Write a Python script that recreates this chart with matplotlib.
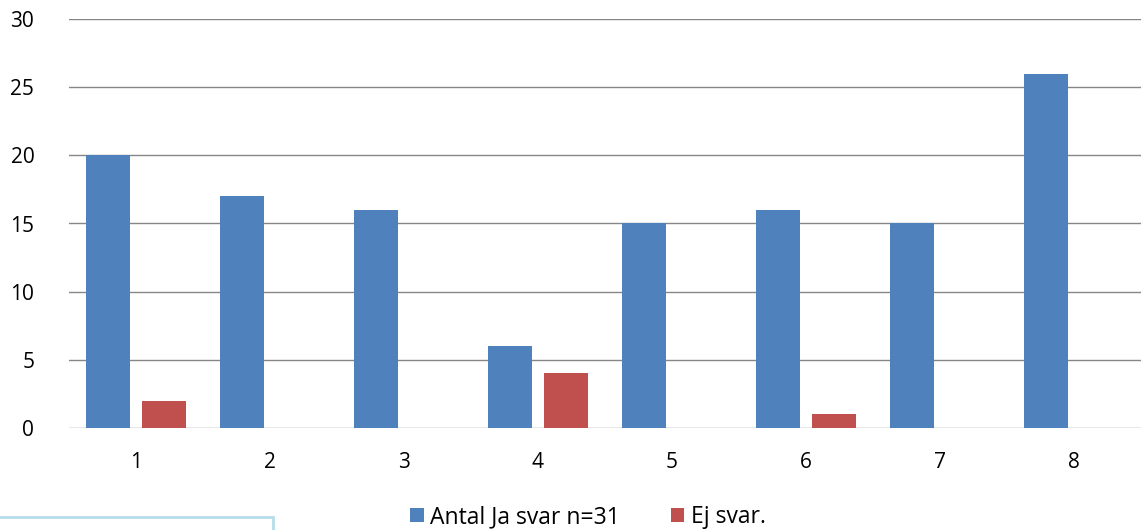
import numpy as np
import matplotlib
matplotlib.use('Agg')
from matplotlib import pyplot as plt
from matplotlib.patches import Rectangle

categories = ['1', '2', '3', '4', '5', '6', '7', '8']
ja_svar = [20, 17, 16, 6, 15, 16, 15, 26]
ej_svar = [2, 0, 0, 4, 0, 1, 0, 0]
labels = ['Antal Ja svar n=31', 'Ej svar.']

plt.rcParams['font.family'] = ['Open Sans', 'DejaVu Sans']

fig = plt.figure(figsize=(11.44, 5.30), dpi=100)
ax = fig.add_axes([69/1144, (530-428)/530, (1141-69)/1144, (428-19)/530])

x = np.arange(len(categories))
w = 0.33
ax.bar(x - 0.21, ja_svar, w, color='#4f81bd', label=labels[0], zorder=3)
ax.bar(x + 0.21, ej_svar, w, color='#c0504d', label=labels[1], zorder=3)

ax.set_xlim(-0.5, len(categories) - 0.5)
ax.set_ylim(0, 30)
ax.set_yticks(range(0, 31, 5))
ax.set_xticks(x)
ax.set_xticklabels(categories)
ax.yaxis.grid(True, color='#868686', lw=1)
ax.set_axisbelow(True)
for s in ax.spines.values():
    s.set_visible(False)
ax.tick_params(length=0, labelsize=15, colors='black')
ax.tick_params(axis='x', pad=17)
ax.tick_params(axis='y', pad=25)

ax.legend(loc='center', bbox_to_anchor=(588/1144, 13/530), bbox_transform=fig.transFigure,
          ncol=2, frameon=False, fontsize=16.5, handlelength=0.6, handleheight=0.6,
          handletextpad=0.3, columnspacing=2.2)

# partial text box in the lower left corner
fig.patches.append(Rectangle((-0.01, -0.05), 273/1144 + 0.01, (530-517)/530 + 0.05,
                             transform=fig.transFigure, fill=False, edgecolor='#b7dde8', lw=2))

fig.savefig('out.png', dpi=100)
